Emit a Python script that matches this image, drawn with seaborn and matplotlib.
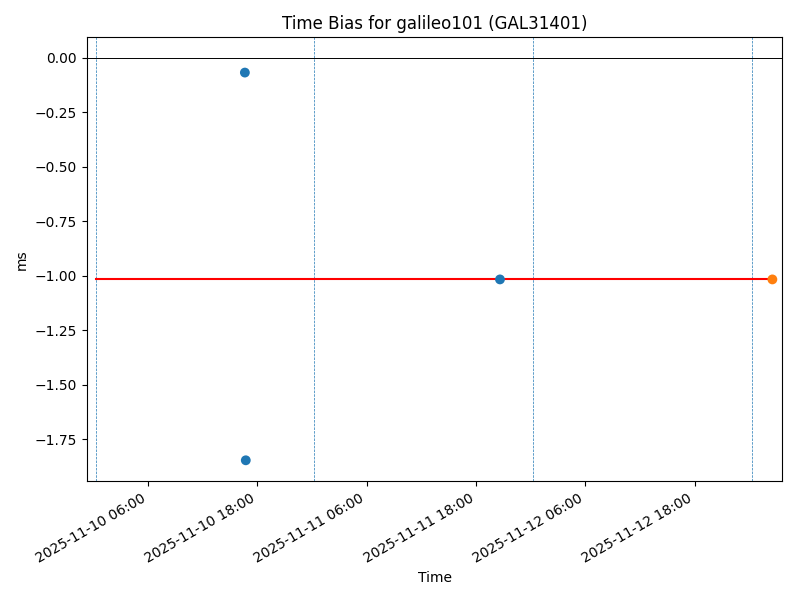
import pandas as pd
import matplotlib
matplotlib.use("Agg")
import matplotlib.pyplot as plt
import matplotlib.dates as mdates
import seaborn as sns

# measurements
times = ["2025-11-10 16:38", "2025-11-10 16:44", "2025-11-11 20:38", "2025-11-13 02:32"]
bias_ms = [-0.069, -1.846, -1.017, -1.017]
groups = ["old", "old", "old", "latest"]

# day boundaries (dashed) and fitted level
day_marks = ["2025-11-10 00:15", "2025-11-11 00:15", "2025-11-12 00:15", "2025-11-13 00:15"]
level_times = ["2025-11-10 00:15", "2025-11-13 02:32"]
level_values = [-1.017, -1.017]
x_range = ["2025-11-09 23:16", "2025-11-13 03:38"]

df = pd.DataFrame({"time": pd.to_datetime(times), "bias": bias_ms, "group": groups})
level = pd.DataFrame({"time": pd.to_datetime(level_times), "bias": level_values})

fig, ax = plt.subplots(figsize=(8, 6), dpi=100)

for d in pd.to_datetime(day_marks):
    ax.axvline(d, color="#1f77b4", linestyle="--", linewidth=0.5)
ax.axhline(0, color="black", linewidth=0.7)

sns.lineplot(data=level, x="time", y="bias", color="red", linewidth=1.5, ax=ax)
sns.scatterplot(data=df, x="time", y="bias", hue="group",
                palette={"old": "#1f77b4", "latest": "#ff7f0e"},
                s=50, linewidth=0, legend=False, ax=ax, zorder=3)

ax.set_xlim(pd.to_datetime(x_range[0]), pd.to_datetime(x_range[1]))
ax.set_ylim(-1.9425, 0.0925)
ax.xaxis.set_major_locator(mdates.HourLocator(byhour=[6, 18]))
ax.xaxis.set_major_formatter(mdates.DateFormatter("%Y-%m-%d %H:%M"))
fig.autofmt_xdate()

ax.set_title("Time Bias for galileo101 (GAL31401)")
ax.set_xlabel("Time")
ax.set_ylabel("ms")
plt.tight_layout()
fig.subplots_adjust(right=0.978)
plt.savefig("out.png")
